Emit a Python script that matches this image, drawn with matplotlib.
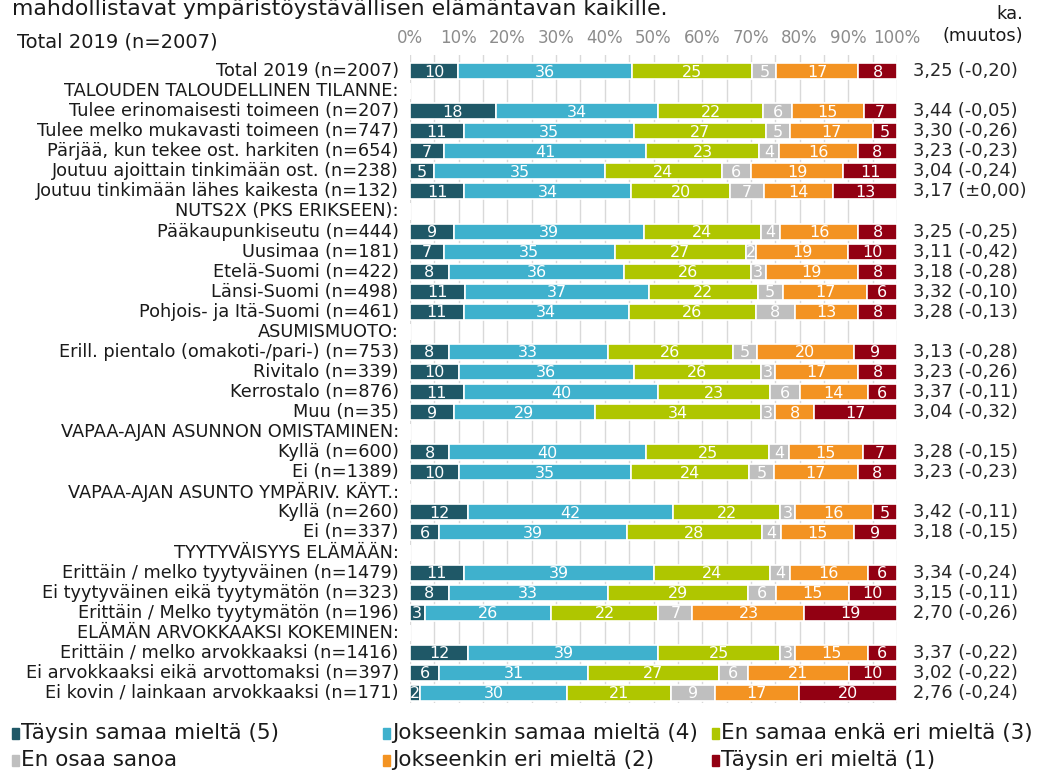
import matplotlib.pyplot as plt
from matplotlib.patches import Rectangle
import numpy as np

# Row labels (header rows have no bars)
labels = [
    "Total 2019 (n=2007)",
    "TALOUDEN TALOUDELLINEN TILANNE:",
    "Tulee erinomaisesti toimeen (n=207)",
    "Tulee melko mukavasti toimeen (n=747)",
    "Pärjää, kun tekee ost. harkiten (n=654)",
    "Joutuu ajoittain tinkimään ost. (n=238)",
    "Joutuu tinkimään lähes kaikesta (n=132)",
    "NUTS2X (PKS ERIKSEEN):",
    "Pääkaupunkiseutu (n=444)",
    "Uusimaa (n=181)",
    "Etelä-Suomi (n=422)",
    "Länsi-Suomi (n=498)",
    "Pohjois- ja Itä-Suomi (n=461)",
    "ASUMISMUOTO:",
    "Erill. pientalo (omakoti-/pari-) (n=753)",
    "Rivitalo (n=339)",
    "Kerrostalo (n=876)",
    "Muu (n=35)",
    "VAPAA-AJAN ASUNNON OMISTAMINEN:",
    "Kyllä (n=600)",
    "Ei (n=1389)",
    "VAPAA-AJAN ASUNTO YMPÄRIV. KÄYT.:",
    "Kyllä (n=260)",
    "Ei (n=337)",
    "TYYTYVÄISYYS ELÄMÄÄN:",
    "Erittäin / melko tyytyväinen (n=1479)",
    "Ei tyytyväinen eikä tyytymätön (n=323)",
    "Erittäin / Melko tyytymätön (n=196)",
    "ELÄMÄN ARVOKKAAKSI KOKEMINEN:",
    "Erittäin / melko arvokkaaksi (n=1416)",
    "Ei arvokkaaksi eikä arvottomaksi (n=397)",
    "Ei kovin / lainkaan arvokkaaksi (n=171)",
]

N = np.nan
taysin_samaa = [10, N, 18, 11, 7, 5, 11, N, 9, 7, 8, 11, 11, N, 8, 10, 11, 9, N, 8, 10, N, 12, 6, N, 11, 8, 3, N, 12, 6, 2]
jokseenkin_samaa = [36, N, 34, 35, 41, 35, 34, N, 39, 35, 36, 37, 34, N, 33, 36, 40, 29, N, 40, 35, N, 42, 39, N, 39, 33, 26, N, 39, 31, 30]
neutraali = [25, N, 22, 27, 23, 24, 20, N, 24, 27, 26, 22, 26, N, 26, 26, 23, 34, N, 25, 24, N, 22, 28, N, 24, 29, 22, N, 25, 27, 21]
eos = [5, N, 6, 5, 4, 6, 7, N, 4, 2, 3, 5, 8, N, 5, 3, 6, 3, N, 4, 5, N, 3, 4, N, 4, 6, 7, N, 3, 6, 9]
jokseenkin_eri = [17, N, 15, 17, 16, 19, 14, N, 16, 19, 19, 17, 13, N, 20, 17, 14, 8, N, 15, 17, N, 16, 15, N, 16, 15, 23, N, 15, 21, 17]
taysin_eri = [8, N, 7, 5, 8, 11, 13, N, 8, 10, 8, 6, 8, N, 9, 8, 6, 17, N, 7, 8, N, 5, 9, N, 6, 10, 19, N, 6, 10, 20]

means = [
    "3,25 (-0,20)", "",
    "3,44 (-0,05)", "3,30 (-0,26)", "3,23 (-0,23)", "3,04 (-0,24)", "3,17 (±0,00)", "",
    "3,25 (-0,25)", "3,11 (-0,42)", "3,18 (-0,28)", "3,32 (-0,10)", "3,28 (-0,13)", "",
    "3,13 (-0,28)", "3,23 (-0,26)", "3,37 (-0,11)", "3,04 (-0,32)", "",
    "3,28 (-0,15)", "3,23 (-0,23)", "",
    "3,42 (-0,11)", "3,18 (-0,15)", "",
    "3,34 (-0,24)", "3,15 (-0,11)", "2,70 (-0,26)", "",
    "3,37 (-0,22)", "3,02 (-0,22)", "2,76 (-0,24)",
]

series_names = ["Täysin samaa mieltä (5)", "Jokseenkin samaa mieltä (4)",
                "En samaa enkä eri mieltä (3)", "En osaa sanoa",
                "Jokseenkin eri mieltä (2)", "Täysin eri mieltä (1)"]
colors = ["#1f5867", "#3fb1cd", "#afc600", "#bfbfbf", "#f39322", "#920012"]

data = np.array([taysin_samaa, jokseenkin_samaa, neutraali, eos,
                 jokseenkin_eri, taysin_eri], dtype=float)
totals = np.nansum(data, axis=0)
totals[totals == 0] = 1
widths = data / totals * 100

W, H = 1045, 773
fig = plt.figure(figsize=(W / 100, H / 100), dpi=100)
ax = fig.add_axes([410 / W, 1 - 703 / H, 487 / W, 648 / H])

y = np.arange(len(labels))
left = np.zeros(len(labels))
for i in range(6):
    w = np.nan_to_num(widths[i])
    ax.barh(y, w, left=left, height=0.8, color=colors[i],
            edgecolor="white", linewidth=1.2, zorder=3)
    for j in range(len(labels)):
        if not np.isnan(data[i, j]):
            ax.text(left[j] + w[j] / 2, y[j] + 0.05, f"{int(data[i, j])}",
                    ha="center", va="center", color="white", fontsize=11.5,
                    zorder=4)
    left += w

ax.set_xlim(0, 100)
ax.set_ylim(len(labels) - 0.5, -0.8)
for x in np.arange(0, 101, 5):
    ax.axvline(x, color="#d9d9d9", linewidth=1, zorder=1)
for s in ax.spines.values():
    s.set_visible(False)
ax.set_yticks([])
ax.xaxis.tick_top()
ax.set_xticks(np.arange(0, 101, 10))
ax.set_xticklabels([f"{v}%" for v in range(0, 101, 10)], color="#8c8c8c",
                   fontsize=12)
ax.tick_params(axis="x", length=0, pad=6)

for j, lab in enumerate(labels):
    ax.text(-2.3, y[j], lab, ha="right", va="center", fontsize=12.8,
            color="#1a1a1a")
    if means[j]:
        ax.text(3.2 + 100, y[j], means[j], ha="left", va="center",
                fontsize=12.8, color="#262626")

# Titles / headers
fig.text(12 / W, 1 - 9 / H, "mahdollistavat ympäristöystävällisen elämäntavan kaikille.",
         ha="left", va="center", fontsize=15.8, color="#1a1a1a")
fig.text(17 / W, 1 - 42 / H, "Total 2019 (n=2007)", ha="left", va="center",
         fontsize=14, color="#1a1a1a")
fig.text(1023 / W, 1 - 14 / H, "ka.", ha="right", va="center", fontsize=12.8,
         color="#1a1a1a")
fig.text(1023 / W, 1 - 36 / H, "(muutos)", ha="right", va="center",
         fontsize=12.8, color="#1a1a1a")

# Legend
leg_pos = [(12, 733), (383, 733), (712, 733), (12, 760), (383, 760), (712, 760)]
for (lx, ly), name, c in zip(leg_pos, series_names, colors):
    fig.patches.append(Rectangle((lx / W, 1 - (ly + 6) / H), 7 / W, 11 / H,
                                 transform=fig.transFigure, color=c))
    fig.text((lx + 9) / W, 1 - ly / H, name, ha="left", va="center",
             fontsize=15.5, color="#1a1a1a")

plt.savefig("out.png", dpi=100)
